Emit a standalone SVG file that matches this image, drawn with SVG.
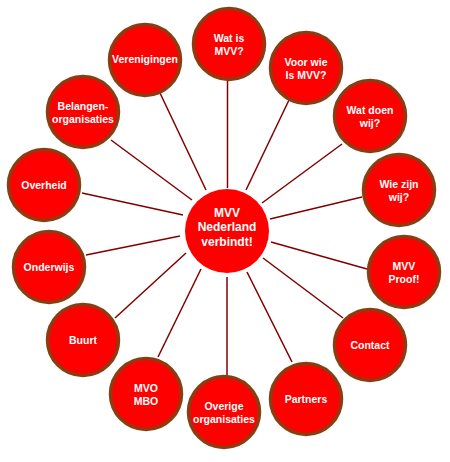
<svg xmlns="http://www.w3.org/2000/svg" width="450" height="462" viewBox="0 0 450 462">
<style>
.bg{fill:#ffffff}
.ln{stroke:#800000;stroke-width:1.5;fill:none}
.n circle{fill:#ff0000;stroke:#8c3c10;stroke-width:3.5}
.n text{font-family:"Liberation Sans",Arial,sans-serif;font-weight:bold;font-size:10.5px;fill:#ffffff;text-anchor:middle}
#hub circle{fill:#ff0000}
#hub text{font-family:"Liberation Sans",Arial,sans-serif;font-weight:bold;font-size:12px;fill:#ffffff;text-anchor:middle}
</style>
<rect class="bg" x="0" y="0" width="450" height="462"/>
<g id="connectors">
<line class="ln" x1="227.5" y1="188" x2="227.5" y2="81"/>
<line class="ln" x1="246" y1="190" x2="289" y2="100"/>
<line class="ln" x1="262" y1="203" x2="342" y2="144"/>
<line class="ln" x1="270" y1="219" x2="362" y2="197"/>
<line class="ln" x1="271" y1="242" x2="367" y2="269"/>
<line class="ln" x1="263" y1="258" x2="343" y2="318"/>
<line class="ln" x1="247" y1="272" x2="292" y2="362"/>
<line class="ln" x1="227" y1="277" x2="227" y2="376"/>
<line class="ln" x1="201" y1="269" x2="158" y2="357"/>
<line class="ln" x1="186" y1="253" x2="115" y2="318"/>
<line class="ln" x1="180" y1="236" x2="86" y2="255"/>
<line class="ln" x1="183" y1="215" x2="82" y2="193"/>
<line class="ln" x1="192" y1="200" x2="111" y2="140"/>
<line class="ln" x1="206" y1="190" x2="160" y2="93"/>
</g>
<g id="hub">
<circle cx="227" cy="231" r="42"/>
<text x="227" y="216.5">MVV</text>
<text x="227" y="231">Nederland</text>
<text x="227" y="245.5">verbindt!</text>
</g>
<g id="wat-is-mvv" class="n"><circle cx="229" cy="44" r="35.5"/><text x="229" y="42">Wat is</text><text x="229" y="54.5">MVV?</text></g>
<g id="voor-wie" class="n"><circle cx="306" cy="68" r="35.5"/><text x="306" y="66">Voor wie</text><text x="306" y="78.5">Is MVV?</text></g>
<g id="wat-doen-wij" class="n"><circle cx="370" cy="116" r="35.5"/><text x="370" y="114">Wat doen</text><text x="370" y="126.5">wij?</text></g>
<g id="wie-zijn-wij" class="n"><circle cx="399" cy="190" r="35.5"/><text x="399" y="188">Wie zijn</text><text x="399" y="200.5">wij?</text></g>
<g id="mvv-proof" class="n"><circle cx="404" cy="272" r="35.5"/><text x="404" y="270">MVV</text><text x="404" y="282.5">Proof!</text></g>
<g id="contact" class="n"><circle cx="370" cy="345" r="35.5"/><text x="370" y="349">Contact</text></g>
<g id="partners" class="n"><circle cx="306" cy="399" r="35.5"/><text x="306" y="403">Partners</text></g>
<g id="overige-organisaties" class="n"><circle cx="224" cy="412" r="35.5"/><text x="224" y="410">Overige</text><text x="224" y="422.5">organisaties</text></g>
<g id="mvo-mbo" class="n"><circle cx="146" cy="394" r="35.5"/><text x="146" y="392">MVO</text><text x="146" y="404.5">MBO</text></g>
<g id="buurt" class="n"><circle cx="83" cy="340" r="35.5"/><text x="83" y="344">Buurt</text></g>
<g id="onderwijs" class="n"><circle cx="49" cy="267" r="35.5"/><text x="49" y="271">Onderwijs</text></g>
<g id="overheid" class="n"><circle cx="44" cy="185" r="35.5"/><text x="44" y="189">Overheid</text></g>
<g id="belangenorganisaties" class="n"><circle cx="83" cy="112" r="35.5"/><text x="83" y="110">Belangen-</text><text x="83" y="122.5">organisaties</text></g>
<g id="verenigingen" class="n"><circle cx="145" cy="60" r="35.5"/><text x="145" y="63">Verenigingen</text></g>
</svg>
